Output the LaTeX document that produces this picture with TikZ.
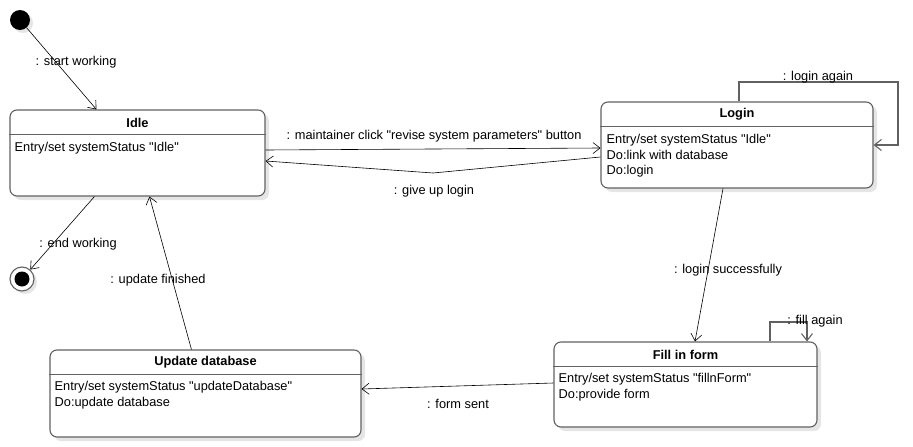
\documentclass[tikz,border=0pt]{standalone}
\usepackage{fontspec}
\setmainfont{Liberation Sans}
\usetikzlibrary{arrows.meta,positioning,shadows}

\newcommand{\qt}{\textquotedbl}

\begin{document}
\begin{tikzpicture}
          [x=1pt,y=-1pt,
          font=\fontsize{12.8}{15.7}\selectfont,
          state/.style={draw=black!62,line width=1.1pt,rounded corners=7pt,fill=white,
            drop shadow={shadow xshift=4pt,shadow yshift=-4pt,fill=black!10,opacity=1}},
          sep/.style={draw=black!62,line width=1.1pt},
          title/.style={font=\fontsize{12.8}{15.5}\selectfont\bfseries},
          body/.style={anchor=north west,align=left,inner sep=0pt},
          arc/.style={-{Straight Barb[length=7pt,width=11pt]},black,line width=0.6pt},
          loop/.style={-{Straight Barb[length=7pt,width=11pt]},draw=black!62,line width=1.1pt},
          lbl/.style={inner sep=1pt}]

            \useasboundingbox (0,0) rectangle (913,447);

            % pseudo states
            \node (init) [circle,fill=black,minimum size=20pt,inner sep=0pt,
              drop shadow={shadow xshift=3pt,shadow yshift=-3pt,fill=black!10,opacity=1}] at (20,20) {};
            \node (final) [circle,draw=black!62,line width=1.1pt,fill=white,minimum size=24pt,inner sep=0pt,
              drop shadow={shadow xshift=3pt,shadow yshift=-3pt,fill=black!10,opacity=1}] at (22,279) {};
            \node [circle,fill=black,minimum size=15pt,inner sep=0pt] at (final) {};

            % states
            \node (idle) [state,minimum width=255pt,minimum height=86pt] at (137.5,153) {};
            \node (login) [state,minimum width=272pt,minimum height=86pt] at (737,145) {};
            \node (fill) [state,minimum width=263pt,minimum height=85pt] at (685.5,384.5) {};
            \node (upd) [state,minimum width=311pt,minimum height=87pt] at (205.5,393.5) {};

            \foreach \s in {idle,login,fill,upd}
              \draw [sep] ([yshift=-25pt]\s.north west) -- ([yshift=-25pt]\s.north east);

            \node [title] at ([yshift=-13pt]idle.north) {Idle};
            \node [title] at ([yshift=-13pt]login.north) {Login};
            \node [title] at ([yshift=-13pt]fill.north) {Fill in form};
            \node [title] at ([yshift=-13pt]upd.north) {Update database};

            \node (idlebody) [body] at ([xshift=5pt,yshift=-32.5pt]idle.north west)
              {Entry/set systemStatus \qt Idle\qt};
            \node (loginbody) [body] at ([xshift=6pt,yshift=-32.5pt]login.north west)
              {Entry/set systemStatus \qt Idle\qt\\Do:link with database\\Do:login};
            \node (fillbody) [body] at ([xshift=5pt,yshift=-32pt]fill.north west)
              {Entry/set systemStatus \qt fillnForm\qt\\Do:provide form};
            \node (updbody) [body] at ([xshift=5pt,yshift=-32pt]upd.north west)
              {Entry/set systemStatus \qt updateDatabase\qt\\Do:update database};

            % helper points
            \coordinate (giveup) at (433,173);
            \coordinate (again) at (898,82);
            \coordinate (refill) at (807,322);

            % transitions
            \draw [arc] (init) -- ([xshift=87pt]idle.north west);
            \draw [arc] ([xshift=85pt]idle.south west) -- (final);
            \draw [arc] ([xshift=142pt]upd.north west) -- ([xshift=140pt]idle.south west);
            \draw [arc] ([yshift=3pt]idle.east) -- ([yshift=-3pt]login.west);
            \draw [arc] ([yshift=-12pt]login.west) -- (giveup) -- ([yshift=-8pt]idle.east);
            \draw [loop] ([xshift=2pt]login.north) |- (again) |- (login.east);
            \draw [arc] ([xshift=-14pt]login.south) -- ([xshift=9.5pt]fill.north);
            \draw [loop] ([xshift=84.5pt]fill.north) |- (refill) -- (refill |- fill.north);
            \draw [arc] ([yshift=1.5pt]fill.west) -- ([yshift=4.5pt]upd.east);

            % transition labels
            \node (l1) [lbl] at (76,62) {: start working};
            \node (l2) [lbl] at (78,244) {: end working};
            \node (l3) [lbl] at (158,280) {: update finished};
            \node (l4) [lbl] at (434,136) {: maintainer click \qt revise system parameters\qt{} button};
            \node (l5) [lbl] at (434,191) {: give up login};
            \node (l6) [lbl] at (818,77) {: login again};
            \node (l7) [lbl] at (728,270) {: login successfully};
            \node (l8) [lbl] at (815,321) {: fill again};
            \node (l9) [lbl] at (458,404) {: form sent};

        \end{tikzpicture}
\end{document}
